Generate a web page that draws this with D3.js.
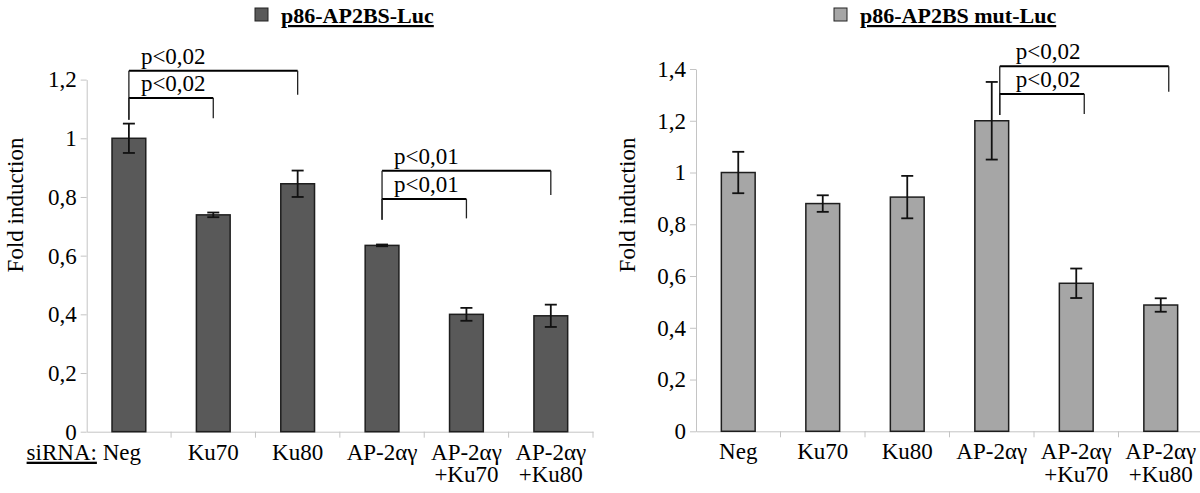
<!DOCTYPE html>
<html>
<head>
<meta charset="utf-8">
<script src="https://cdn.jsdelivr.net/npm/d3@7/dist/d3.min.js"></script>
<style>
  html, body { margin: 0; padding: 0; background: #fff; }
  svg { display: block; }
  svg text, svg tspan { font-family: "Liberation Serif", "Times New Roman", Times, "DejaVu Serif", "Noto Serif", serif !important; fill: #000; }
</style>
</head>
<body>
<svg id="chart" width="1200" height="493"></svg>
<script>
// ---------- DATA ----------
const categories = ["Neg", "Ku70", "Ku80", "AP-2αγ", "AP-2αγ+Ku70", "AP-2αγ+Ku80"];
const categoryLines = [["Neg"], ["Ku70"], ["Ku80"], ["AP-2αγ"], ["AP-2αγ", "+Ku70"], ["AP-2αγ", "+Ku80"]];

const wtTitle = "p86-AP2BS-Luc";
const wtValues = [1.0, 0.739, 0.845, 0.635, 0.400, 0.395];
const wtErrors = [0.050, 0.008, 0.045, 0.003, 0.022, 0.038];
const wtTicks = [0, 0.2, 0.4, 0.6, 0.8, 1.0, 1.2];

const mutTitle = "p86-AP2BS mut-Luc";
const mutValues = [1.0, 0.880, 0.905, 1.200, 0.572, 0.488];
const mutErrors = [0.080, 0.032, 0.082, 0.150, 0.057, 0.026];
const mutTicks = [0, 0.2, 0.4, 0.6, 0.8, 1.0, 1.2, 1.4];

const yTitle = "Fold induction";
const xPrefix = "siRNA:";

// significance brackets (data units)
const wtBrackets = [
  { from: "Neg", to: "Ku80", y: 1.230, leftEnd: 1.063, rightEnd: 1.148, label: "p<0,02" },
  { from: "Neg", to: "Ku70", y: 1.137, leftEnd: 1.063, rightEnd: 1.068, label: "p<0,02" },
  { from: "AP-2αγ", to: "AP-2αγ+Ku80", y: 0.889, leftEnd: 0.722, rightEnd: 0.807, label: "p<0,01" },
  { from: "AP-2αγ", to: "AP-2αγ+Ku70", y: 0.793, leftEnd: 0.722, rightEnd: 0.727, label: "p<0,01" }
];
const mutBrackets = [
  { from: "AP-2αγ", to: "AP-2αγ+Ku80", y: 1.411, leftEnd: 1.222, rightEnd: 1.312, label: "p<0,02" },
  { from: "AP-2αγ", to: "AP-2αγ+Ku70", y: 1.303, leftEnd: 1.222, rightEnd: 1.226, label: "p<0,02" }
];

// ---------- DRAW ----------
const FONT = '"Liberation Serif", "Times New Roman", Times, "DejaVu Serif", serif';
const svg = d3.select("#chart");
const fmt = d => String(+d.toFixed(1)).replace(".", ",");

function drawPanel(opt) {
  const g = svg.append("g").attr("font-family", FONT);
  const x = d3.scaleBand().domain(categories).range(opt.xRange).padding(0);
  const y = d3.scaleLinear().domain(opt.yDomain).range(opt.yRange);
  const bw = x.bandwidth() * 0.4;
  const cx = c => x(c) + x.bandwidth() / 2;

  // y axis
  const ya = g.append("g")
    .attr("transform", `translate(${opt.xRange[0]},0)`)
    .call(d3.axisLeft(y).tickValues(opt.ticks).tickFormat(fmt).tickSize(6).tickSizeOuter(0).tickPadding(4));
  ya.attr("font-family", FONT).attr("font-size", 23);
  ya.select(".domain").attr("stroke", "#c4c4c4");
  ya.selectAll(".tick line").attr("stroke", "#c4c4c4");
  ya.selectAll(".tick text").attr("fill", "#000");

  // x axis line and boundary ticks
  const xa = g.append("g").attr("transform", `translate(0,${opt.yRange[0]})`)
    .call(d3.axisBottom(x).tickSize(0).tickFormat(""));
  xa.select(".domain").attr("stroke", "#c4c4c4");
  const bounds = categories.map(c => x(c)).concat([opt.xRange[1]]).slice(1);
  g.selectAll("line.xb").data(bounds).enter().append("line")
    .attr("x1", d => d).attr("x2", d => d)
    .attr("y1", opt.yRange[0]).attr("y2", opt.yRange[0] + 6)
    .attr("stroke", "#c4c4c4");

  // x labels
  const lab = g.selectAll("text.xl").data(categories).enter().append("text")
    .attr("text-anchor", "middle")
    .attr("x", (c, i) => cx(c) + (i === 0 && opt.prefix ? -7 : 0))
    .attr("y", opt.yRange[0] + 28)
    .attr("font-size", 23);
  lab.each(function (c, i) {
    const t = d3.select(this);
    categoryLines[i].forEach((ln, k) => {
      t.append("tspan").attr("x", t.attr("x")).attr("dy", k === 0 ? 0 : 22.5).text(ln);
    });
  });
  if (opt.prefix) {
    g.append("text").attr("x", cx(categories[0]) - 32).attr("y", opt.yRange[0] + 28)
      .attr("text-anchor", "end").attr("font-size", 23)
      .style("text-decoration", "underline").text(opt.prefix);
  }

  // bars
  g.selectAll("rect.bar").data(opt.values).enter().append("rect")
    .attr("x", (d, i) => cx(categories[i]) - bw / 2)
    .attr("width", bw)
    .attr("y", d => y(d))
    .attr("height", d => y(0) - y(d))
    .attr("fill", opt.fill)
    .attr("stroke", "#1e1e1e").attr("stroke-width", 1.5);

  // error bars
  const eg = g.selectAll("g.err").data(opt.values).enter().append("g");
  eg.append("line")
    .attr("x1", (d, i) => cx(categories[i])).attr("x2", (d, i) => cx(categories[i]))
    .attr("y1", (d, i) => y(d + opt.errors[i])).attr("y2", (d, i) => y(d - opt.errors[i]))
    .attr("stroke", "#111").attr("stroke-width", 1.8);
  [1, -1].forEach(s => {
    eg.append("line")
      .attr("x1", (d, i) => cx(categories[i]) - 6).attr("x2", (d, i) => cx(categories[i]) + 6)
      .attr("y1", (d, i) => y(d + s * opt.errors[i])).attr("y2", (d, i) => y(d + s * opt.errors[i]))
      .attr("stroke", "#111").attr("stroke-width", 1.8);
  });

  // brackets
  opt.brackets.forEach(b => {
    const x1 = cx(b.from) + opt.bracketDx, x2 = cx(b.to) + opt.bracketDx;
    const bg = g.append("g");
    bg.append("line").attr("x1", x1).attr("x2", x2).attr("y1", y(b.y)).attr("y2", y(b.y))
      .attr("stroke", "#000").attr("stroke-width", 2);
    bg.append("line").attr("x1", x1).attr("x2", x1).attr("y1", y(b.y)).attr("y2", y(b.leftEnd))
      .attr("stroke", "#222").attr("stroke-width", 1.3);
    bg.append("line").attr("x1", x2).attr("x2", x2).attr("y1", y(b.y)).attr("y2", y(b.rightEnd))
      .attr("stroke", "#222").attr("stroke-width", 1.3);
    bg.append("text").attr("x", x1 + opt.labelDx).attr("y", y(b.y) - 7)
      .attr("font-size", 23).text(b.label);
  });

  // y title
  g.append("text")
    .attr("transform", `translate(${opt.yTitleX},205) rotate(-90)`)
    .attr("text-anchor", "middle").attr("font-size", 23).text(yTitle);

  // legend
  const lg = g.append("g");
  lg.append("rect").attr("x", opt.legendX).attr("y", 8).attr("width", 13).attr("height", 13)
    .attr("fill", opt.fill).attr("stroke", "#222").attr("stroke-width", 1);
  lg.append("text").attr("x", opt.legendX + 26).attr("y", 23)
    .attr("font-size", 22).attr("font-weight", "bold")
    .style("text-decoration", "underline").text(opt.title);
}

drawPanel({
  xRange: [86.7, 593], yRange: [431.7, 79.6], yDomain: [0, 1.2], ticks: wtTicks,
  values: wtValues, errors: wtErrors, fill: "#595959", brackets: wtBrackets,
  bracketDx: 0, labelDx: 12, yTitleX: 23, legendX: 255, title: wtTitle, prefix: xPrefix
});
drawPanel({
  xRange: [696, 1203], yRange: [431.3, 69], yDomain: [0, 1.4], ticks: mutTicks,
  values: mutValues, errors: mutErrors, fill: "#a6a6a6", brackets: mutBrackets,
  bracketDx: 8, labelDx: 16, yTitleX: 635, legendX: 834, title: mutTitle, prefix: null
});
</script>
</body>
</html>
